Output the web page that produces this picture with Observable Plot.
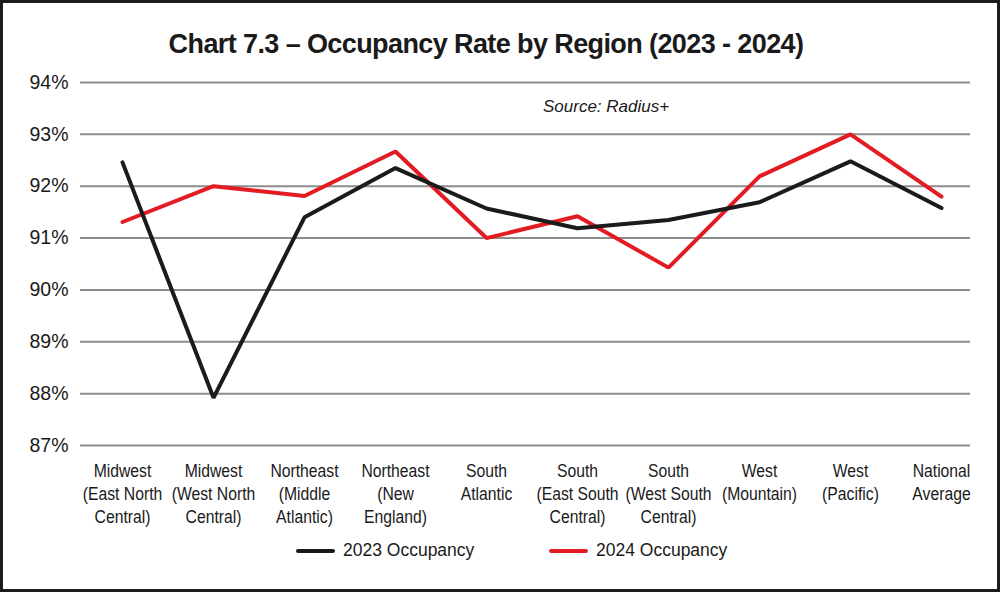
<!DOCTYPE html>
<html>
<head>
<meta charset="utf-8">
<script src="https://cdn.jsdelivr.net/npm/d3@7"></script>
<script src="https://cdn.jsdelivr.net/npm/@observablehq/plot@0.6"></script>
<style>
  html, body { margin: 0; padding: 0; background: #fff; }
  body { width: 1000px; height: 592px; position: relative; overflow: hidden;
         font-family: "Liberation Sans", Arial, Helvetica, sans-serif; color: #1a1a1a; }
  #frame { position: absolute; left: 0; top: 0; width: 1000px; height: 592px;
           box-sizing: border-box; border: 3px solid #1c1c1c; pointer-events: none; z-index: 5; }
  #title { position: absolute; left: 0; width: 972px; top: 28px; text-align: center;
           font-weight: bold; font-size: 27px; line-height: 32px; letter-spacing: -0.6px; }
  #source { position: absolute; left: 543px; top: 97px; font-style: italic; font-size: 17px; }
  #chart { position: absolute; left: 0; top: 60px; }
  .leg { position: absolute; top: 540px; display: flex; align-items: center; font-size: 17.5px; }
  .sw { width: 39px; height: 4px; border-radius: 2px; margin-right: 8px; }
</style>
</head>
<body>
<div id="frame"></div>
<div id="title">Chart 7.3 – Occupancy Rate by Region (2023 - 2024)</div>
<div id="source">Source: Radius+</div>
<div id="chart"></div>
<div id="legend"></div>
<script>
const regions = [
  "Midwest\n(East North\nCentral)",
  "Midwest\n(West North\nCentral)",
  "Northeast\n(Middle\nAtlantic)",
  "Northeast\n(New\nEngland)",
  "South\nAtlantic",
  "South\n(East South\nCentral)",
  "South\n(West South\nCentral)",
  "West\n(Mountain)",
  "West\n(Pacific)",
  "National\nAverage"
];
const occ2023 = [92.46, 87.92, 91.40, 92.35, 91.57, 91.19, 91.35, 91.69, 92.48, 91.58];
const occ2024 = [91.31, 92.00, 91.81, 92.67, 91.00, 91.42, 90.43, 92.19, 93.00, 91.80];
const seriesNames = ["2023 Occupancy", "2024 Occupancy"];
const seriesColors = ["#1b1b1b", "#e31b23"];
const yTicks = [87, 88, 89, 90, 91, 92, 93, 94];

const rows = [];
regions.forEach((r, i) => {
  rows.push({region: r, value: occ2023[i], series: seriesNames[0]});
  rows.push({region: r, value: occ2024[i], series: seriesNames[1]});
});

const chart = Plot.plot({
  width: 1000,
  height: 480,
  marginTop: 22,
  marginBottom: 95,
  marginLeft: 80,
  marginRight: 30,
  style: {fontFamily: '"Liberation Sans", Arial, sans-serif', color: "#1a1a1a", background: "transparent"},
  x: {type: "point", domain: regions, range: [121, 942], padding: 0},
  y: {domain: [87, 94]},
  color: {domain: seriesNames, range: seriesColors},
  marks: [
    Plot.ruleY(yTicks, {stroke: "#8c8c8c", strokeWidth: 2}),
    Plot.axisY({ticks: yTicks, tickFormat: d => d + "%", tickSize: 0, tickPadding: 12,
                fontSize: 19.5, label: null}),
    Plot.axisX({tickSize: 0, tickPadding: 15, fontSize: 18.3, lineHeight: 1.27, label: null}),
    Plot.line(rows.filter(d => d.series === seriesNames[1]), {x: "region", y: "value", stroke: "series", strokeWidth: 4, strokeLinejoin: "miter"}),
    Plot.line(rows.filter(d => d.series === seriesNames[0]), {x: "region", y: "value", stroke: "series", strokeWidth: 4, strokeLinejoin: "miter"})
  ]
});
// condense the x tick labels horizontally, like the reference's narrow type
chart.querySelectorAll('g[aria-label="x-axis tick label"] text').forEach(t => {
  const tr = t.getAttribute("transform") || "";
  t.setAttribute("transform", tr + " scale(0.86,1)");
});
document.getElementById("chart").appendChild(chart);

const legendLeft = [296, 549];
const legend = document.getElementById("legend");
seriesNames.forEach((name, i) => {
  const item = document.createElement("div");
  item.className = "leg";
  item.style.left = legendLeft[i] + "px";
  item.innerHTML = `<div class="sw" style="background:${seriesColors[i]}"></div><span>${name}</span>`;
  legend.appendChild(item);
});
</script>
</body>
</html>
